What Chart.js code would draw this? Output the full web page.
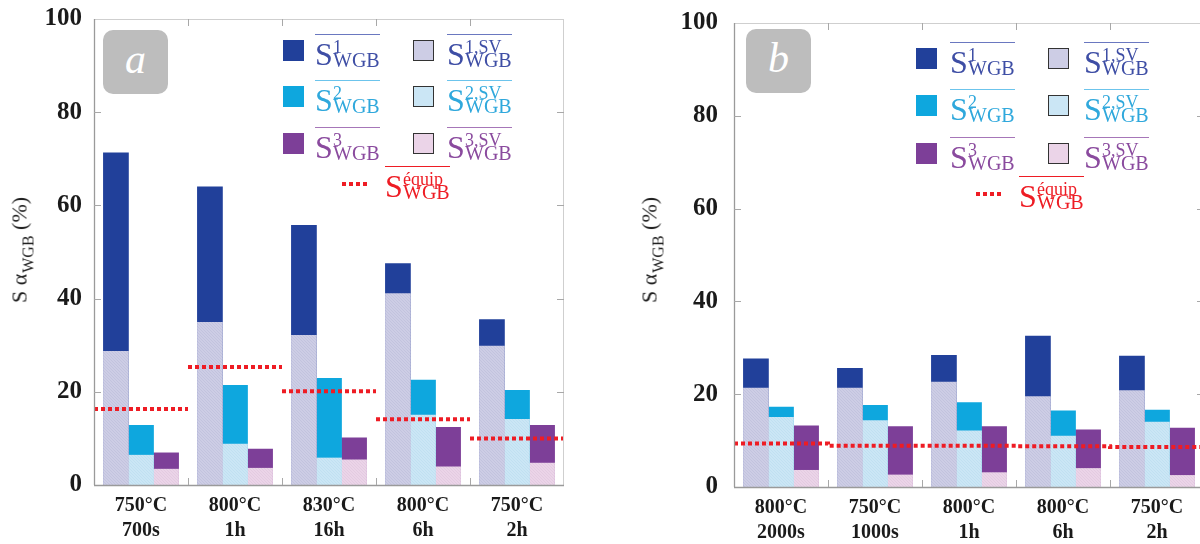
<!DOCTYPE html>
<html>
<head>
<meta charset="utf-8">
<script src="https://cdn.jsdelivr.net/npm/chart.js@4.4.1/dist/chart.umd.min.js"></script>
<style>
html, body { margin: 0; padding: 0; background: #fff; overflow: hidden; }
#wrap { position: relative; width: 1200px; height: 544px; overflow: hidden; }
.panel { position: absolute; top: 0; height: 544px; }
.tag { position: absolute; width: 65px; height: 64px; background: #bdbdbd; border-radius: 10px;
       color: #fff; font: italic 42px 'Liberation Serif', serif; text-align: center; line-height: 58px; }
.ytitle { position: absolute; white-space: nowrap; font: 22px 'Liberation Serif', serif; color: #1e1e1e;
          transform: translate(-50%, -50%) rotate(-90deg); line-height: 26px; }
.ytitle sub { font-size: 16px; vertical-align: -7px; margin-left: 1px; }
.sw { position: absolute; width: 21px; height: 21px; box-sizing: border-box; }
.sw.sv { border: 1.5px solid #333; }
.lbl { position: absolute; width: 65px; height: 36px; border-top: 1.6px solid; font-family: 'Liberation Serif', serif; }
.lbl .S { position: absolute; left: 0; top: 3px; font-size: 32px; line-height: 32px; }
.lbl .sup { position: absolute; left: 18px; top: 3px; font-size: 18px; line-height: 18px; white-space: nowrap; }
.lbl .sub { position: absolute; left: 18px; top: 15px; font-size: 20px; line-height: 20px; }
.dots { position: absolute; width: 28px; height: 4px;
        background: repeating-linear-gradient(to right, #ee1c24 0 4px, transparent 4px 7px); }
</style>
</head>
<body>
<div id="wrap">
  <div class="panel" id="pa" style="left:0;width:600px"><canvas id="ca" width="600" height="544"></canvas></div>
  <div class="panel" id="pb" style="left:600px;width:640px"><canvas id="cb" width="640" height="544"></canvas></div>
</div>
<script>
// panel a
const labelsA = [['750°C', '700s'], ['800°C', '1h'], ['830°C', '16h'], ['800°C', '6h'], ['750°C', '2h']];
const s1A = [71.3, 64.0, 55.7, 47.5, 35.5];
const sv1A = [28.7, 34.9, 32.1, 41.1, 29.8];
const s2A = [12.8, 21.4, 22.9, 22.5, 20.3];
const sv2A = [6.4, 8.8, 5.8, 15.0, 14.1];
const s3A = [6.9, 7.7, 10.1, 12.4, 12.8];
const sv3A = [3.4, 3.6, 5.4, 3.9, 4.7];
const equipA = [16.3, 25.3, 20.1, 14.1, 10.0];

// panel b
const labelsB = [['800°C', '2000s'], ['750°C', '1000s'], ['800°C', '1h'], ['800°C', '6h'], ['750°C', '2h']];
const s1B = [27.6, 25.6, 28.4, 32.5, 28.2];
const sv1B = [21.3, 21.3, 22.6, 19.5, 20.8];
const s2B = [17.2, 17.6, 18.2, 16.4, 16.6];
const sv2B = [15.0, 14.3, 12.1, 11.0, 14.0];
const s3B = [13.2, 13.0, 13.0, 12.3, 12.7];
const sv3B = [3.6, 2.6, 3.1, 4.0, 2.5];
const equipB = [9.4, 8.9, 8.9, 8.8, 8.6];

const yTicks = [0, 20, 40, 60, 80, 100];
const legendSup = ['1', '2', '3'];
const legendSupSV = ['1,SV', '2,SV', '3,SV'];
const equipSup = 'équip';

const solid = ['#21409a', '#0ea7de', '#7d3f98'];
const light = ['#cdcde5', '#cbe6f5', '#ebd4e8'];
const lightDot = ['#c2c3de', '#c0e0f1', '#e3cbe1'];
const textCol = ['#3e4ea5', '#2fa8dc', '#8a4a9e'];
const lineCol = ['#6a78c0', '#6cc4ec', '#a676b8'];
const red = '#ee1c24';

// three bars per group, side by side, each 0.8/3 of a group wide
const slot = 0.8 / 3;
const slotOffset = [-slot, 0, slot];

function hatch(base, dot) {
    const c = document.createElement('canvas');
    c.width = 3; c.height = 3;
    const g = c.getContext('2d');
    g.fillStyle = base; g.fillRect(0, 0, 3, 3);
    g.fillStyle = dot; g.fillRect(0, 0, 1, 1); g.fillRect(1, 1, 1, 1); g.fillRect(2, 2, 1, 1);
    return g.createPattern(c, 'repeat');
}

function barPoints(vals, k) {
    return vals.map((v, i) => ({ x: i + slotOffset[k], y: v }));
}

// segments spanning each category, joined or not
function equipPoints(vals, joined) {
    const pts = [];
    vals.forEach((v, i) => {
        pts.push({ x: i - 0.5, y: v }, { x: i + 0.5, y: v });
        if (!joined) pts.push({ x: i + 0.5, y: null });
    });
    return pts;
}

// axis box with inner tick marks
const framePlugin = {
    id: 'frame',
    afterDatasetsDraw(chart) {
        const { ctx, chartArea: a, scales } = chart;
        ctx.save();
        ctx.lineWidth = 1;
        ctx.strokeStyle = '#cfcfcf';
        ctx.beginPath();
        ctx.moveTo(a.left, a.top + 0.5); ctx.lineTo(a.right, a.top + 0.5);
        ctx.moveTo(a.right - 0.5, a.top); ctx.lineTo(a.right - 0.5, a.bottom);
        ctx.stroke();
        ctx.strokeStyle = '#9a9a9a';
        ctx.lineWidth = 1.3;
        ctx.beginPath();
        ctx.moveTo(a.left + 0.5, a.top); ctx.lineTo(a.left + 0.5, a.bottom);
        ctx.moveTo(a.left, a.bottom + 0.5); ctx.lineTo(a.right, a.bottom + 0.5);
        ctx.stroke();
        ctx.strokeStyle = '#a8a8a8';
        ctx.lineWidth = 1;
        ctx.beginPath();
        scales.y.ticks.forEach(t => {
            if (t.value === 0 || t.value === 100) return;
            const py = Math.round(scales.y.getPixelForValue(t.value)) + 0.5;
            ctx.moveTo(a.left, py); ctx.lineTo(a.left + 7, py);
            ctx.moveTo(a.right, py); ctx.lineTo(a.right - 7, py);
        });
        const n = scales.x.ticks.length;
        for (let k = 0.5; k < n - 1; k++) {
            const px = Math.round(scales.x.getPixelForValue(k)) + 0.5;
            ctx.moveTo(px, a.top); ctx.lineTo(px, a.top + 7);
            ctx.moveTo(px, a.bottom); ctx.lineTo(px, a.bottom - 7);
        }
        ctx.stroke();
        ctx.restore();
    }
};

function makeChart(id, cfg) {
    const tops = [cfg.s1, cfg.s2, cfg.s3];
    const svs = [cfg.sv1, cfg.sv2, cfg.sv3];
    const datasets = [{
        type: 'line',
        data: equipPoints(cfg.equip, cfg.joined),
        borderColor: red,
        borderWidth: 4,
        borderDash: [4, 3],
        borderCapStyle: 'butt',
        pointRadius: 0,
        spanGaps: false,
        order: 0
    }];
    svs.forEach((d, i) => datasets.push({
        data: barPoints(d, i), order: 1, grouped: false,
        backgroundColor: hatch(light[i], lightDot[i]),
        categoryPercentage: 1, barPercentage: 1
    }));
    tops.forEach((d, i) => datasets.push({
        data: barPoints(d, i), order: 2, grouped: false,
        backgroundColor: solid[i],
        categoryPercentage: 1, barPercentage: 1
    }));

    return new Chart(document.getElementById(id), {
        type: 'bar',
        data: { datasets: datasets },
        options: {
            responsive: false,
            animation: false,
            layout: { padding: { top: 17, right: cfg.padRight, left: 0, bottom: 0 } },
            plugins: { legend: { display: false }, tooltip: { enabled: false } },
            scales: {
                x: {
                    type: 'linear',
                    offset: false,
                    min: -0.5,
                    max: cfg.labels.length - 0.5,
                    grid: { display: false },
                    border: { display: false },
                    afterBuildTicks: s => { s.ticks = cfg.labels.map((l, i) => ({ value: i })); },
                    ticks: {
                        color: '#1a1a1a', padding: 0, maxRotation: 0, autoSkip: false,
                        callback: v => cfg.labels[v],
                        font: { family: 'Liberation Serif', size: 20, weight: 'bold', lineHeight: 1.25 }
                    },
                    afterFit: s => { s.height = cfg.xHeight; }
                },
                y: {
                    min: 0, max: 100, stacked: false,
                    grid: { display: false },
                    border: { display: false },
                    afterBuildTicks: s => { s.ticks = yTicks.map(v => ({ value: v })); },
                    ticks: {
                        color: '#1a1a1a', padding: cfg.yPad,
                        font: { family: 'Liberation Serif', size: 25, weight: 'bold' }
                    },
                    afterFit: s => { s.width = cfg.yWidth; }
                }
            }
        },
        plugins: [framePlugin]
    });
}

function addEl(panel, cls, x, y, html) {
    const d = document.createElement('div');
    d.className = cls;
    d.style.left = x + 'px';
    d.style.top = y + 'px';
    if (html) d.innerHTML = html;
    panel.appendChild(d);
    return d;
}

function addLabel(panel, x, y, sup, color, lc) {
    const d = addEl(panel, 'lbl', x, y,
        '<span class="S">S</span><span class="sup">' + sup + '</span><span class="sub">WGB</span>');
    d.style.color = color;
    d.style.borderTopColor = lc;
}

function decorate(panelId, tag, L) {
    const p = document.getElementById(panelId);
    addEl(p, 'tag', L.tagX, L.tagY, tag);
    addEl(p, 'ytitle', L.titleX, 250, 'S α<sub>WGB</sub> (%)');
    for (let i = 0; i < 3; i++) {
        const oy = L.rows[i];
        const sw1 = addEl(p, 'sw', L.sw1, oy + 6);
        sw1.style.background = solid[i];
        addLabel(p, L.lb1, oy, legendSup[i], textCol[i], lineCol[i]);
        const sw2 = addEl(p, 'sw sv', L.sw2, oy + 6);
        sw2.style.background = light[i];
        addLabel(p, L.lb2, oy, legendSupSV[i], textCol[i], lineCol[i]);
    }
    addEl(p, 'dots', L.dotX, L.eqY + 16);
    addLabel(p, L.eqX, L.eqY, equipSup, red, red);
}

makeChart('ca', {
    labels: labelsA, s1: s1A, sv1: sv1A, s2: s2A, sv2: sv2A, s3: s3A, sv3: sv3A,
    equip: equipA, joined: false, padRight: 36, xHeight: 59, yWidth: 94, yPad: 4
});
makeChart('cb', {
    labels: labelsB, s1: s1B, sv1: sv1B, s2: s2B, sv2: sv2B, s3: s3B, sv3: sv3B,
    equip: equipB, joined: true, padRight: 36, xHeight: 57, yWidth: 134, yPad: 8
});

decorate('pa', 'a', { tagX: 103, tagY: 30, titleX: 24, rows: [34, 80, 127],
    sw1: 283, lb1: 315, sw2: 413, lb2: 447, dotX: 342, eqX: 385, eqY: 166 });
decorate('pb', 'b', { tagX: 146, tagY: 29, titleX: 54, rows: [42, 89, 137],
    sw1: 316, lb1: 350, sw2: 448, lb2: 484, dotX: 376, eqX: 419, eqY: 176 });
</script>
</body>
</html>
